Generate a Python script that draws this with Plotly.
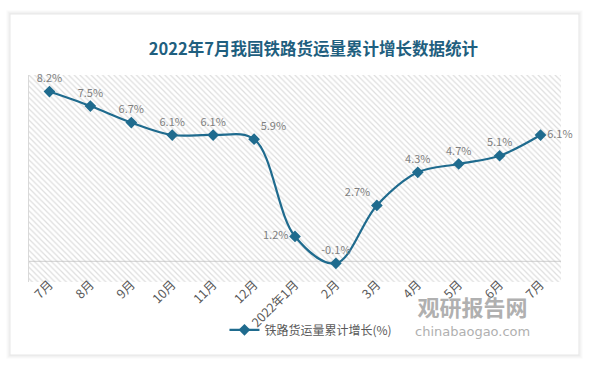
import plotly.graph_objects as go

months = ["7月", "8月", "9月", "10月", "11月", "12月", "2022年1月", "2月", "3月", "4月", "5月", "6月", "7月"]
growth = [8.2, 7.5, 6.7, 6.1, 6.1, 5.9, 1.2, -0.1, 2.7, 4.3, 4.7, 5.1, 6.1]
label_pos = ["top center", "top center", "top center", "top center", "top center", "top right",
             "middle left", "top center", "top left", "top center", "top center", "top center",
             "middle right"]
title_text = "2022年7月我国铁路货运量累计增长数据统计"
series_name = "铁路货运量累计增长(%)"

LINE = "#1F6B8E"
FONT = "Noto Sans CJK SC"
idx = list(range(len(months)))

fig = go.Figure()

# hatched plot-area background (hidden base axes)
fig.add_trace(go.Scatter(
    x=[0, 1, 1, 0, 0], y=[0, 0, 1, 1, 0], mode="lines", fill="toself",
    line=dict(width=0), fillcolor="rgba(0,0,0,0)",
    fillpattern=dict(shape="\\", fgcolor="#bdbdbd", bgcolor="rgba(0,0,0,0)", size=4, solidity=0.3),
    hoverinfo="skip", showlegend=False, xaxis="x", yaxis="y"))

fig.add_trace(go.Scatter(
    x=idx, y=growth, mode="lines+markers+text", name=series_name,
    line=dict(color=LINE, width=2.2, shape="spline", smoothing=1),
    marker=dict(symbol="diamond", size=9, color=LINE),
    text=[f"{v}%" for v in growth], textposition=label_pos,
    textfont=dict(size=11, color="#7f7f7f", family=FONT),
    xaxis="x2", yaxis="y2", cliponaxis=False))

# card shadow
shadow = []
for i, c in enumerate(["#fbfbfb", "#f5f5f5", "#efefef", "#e8e8e8"]):
    d = (4 - i) * 1.0
    shadow.append(dict(type="rect", xref="paper", yref="paper",
                       x0=-0.034 - d / 532, x1=1.032 + d / 532,
                       y0=-0.348 - d / 207, y1=1.29 + d / 207,
                       line=dict(color=c, width=1.2), fillcolor="rgba(0,0,0,0)", layer="below"))

watermark = ("<b><span style='font-size:22px'>观研报告网</span></b><br>"
             "<span style='font-size:13px;font-family:DejaVu Sans'>chinabaogao.com</span>")

fig.update_layout(
    width=589, height=365,
    margin=dict(l=29, r=28, t=75, b=83),
    paper_bgcolor="white", plot_bgcolor="rgba(0,0,0,0)",
    font=dict(family=FONT, color="#595959"),
    title=dict(text=f"<b>{title_text}</b>", x=0.532, xanchor="center", y=0.865, yanchor="middle",
               font=dict(size=16.5, color="#1F5F7F", family=FONT)),
    xaxis=dict(range=[0, 1], visible=False, fixedrange=True),
    yaxis=dict(range=[0, 1], visible=False, fixedrange=True),
    xaxis2=dict(overlaying="x", range=[-0.5, 12.5], tickmode="array", tickvals=idx, ticktext=months,
                tickangle=-45, showgrid=False, zeroline=False, showline=False, ticks="",
                ticklabelstandoff=-8,
                tickfont=dict(size=12.5, color="#595959", family=FONT)),
    yaxis2=dict(overlaying="y", range=[-1, 9], showgrid=False, showticklabels=False,
                zeroline=False, showline=True, linecolor="#d9d9d9", linewidth=1),
    showlegend=True,
    legend=dict(orientation="h", x=0.53, xanchor="center", y=-0.161, yanchor="top",
                font=dict(size=12, color="#595959", family=FONT), bgcolor="rgba(0,0,0,0)"),
    shapes=shadow + [
        dict(type="line", xref="paper", yref="y2", x0=0, x1=1, y0=0, y1=0,
             line=dict(color="#d9d9d9", width=1.2), layer="below"),
    ],
    annotations=[
        dict(text=watermark, xref="paper", yref="paper", x=0.834, y=-0.155, xanchor="center",
             yanchor="middle", showarrow=False, align="center",
             font=dict(size=15, color="#b0b0b0", family=FONT)),
    ],
)

fig.write_html("out.html", config={"displayModeBar": False},
               post_script="document.body.style.margin='0';")
